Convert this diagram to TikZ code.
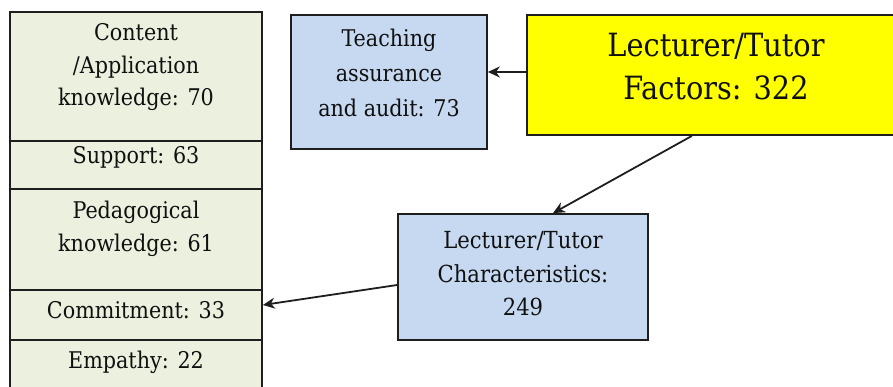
\documentclass[tikz,border=0pt]{standalone}
\usepackage{fontspec}
\setmainfont{DejaVu Serif Condensed}
\usetikzlibrary{arrows.meta}
\definecolor{cellgreen}{HTML}{EBF1DE}
\definecolor{boxblue}{HTML}{C6D9F1}
\definecolor{boxyellow}{HTML}{FFFF00}
\definecolor{edge}{HTML}{1E1E1E}
\definecolor{ink}{HTML}{101010}
\begin{document}
\begin{tikzpicture}[x=1pt,y=1pt,
  cell/.style={draw=edge,line width=1.7pt,fill=cellgreen,minimum width=252pt,inner sep=0pt},
  bluebox/.style={draw=edge,line width=1.7pt,fill=boxblue,inner sep=0pt},
  yelbox/.style={draw=edge,line width=1.7pt,fill=boxyellow,inner sep=0pt},
  txt/.style={align=center,text=ink,inner sep=0pt,font=\fontsize{23}{32.5}\selectfont},
  bigtxt/.style={align=center,text=ink,inner sep=0pt,font=\fontsize{32}{43}\selectfont},
  arr/.style={draw=edge,line width=1.8pt,-{Stealth[length=12pt,width=11pt]}}]
\useasboundingbox (0,0) rectangle (893,387);
\clip (0,0) rectangle (893,387);
% left column
\node[cell,minimum height=129pt] (c1) at (136,310.5) {};
\node[cell,minimum height=48pt] (c2) at (136,222) {};
\node[cell,minimum height=101pt] (c3) at (136,147.5) {};
\node[cell,minimum height=50pt] (c4) at (136,72) {};
\node[cell,minimum height=60pt] (c5) at (136,17) {};
\node[txt] (t1) at (136,319.5) {Content\\/Application\\knowledge: 70};
\node[txt] (t2) at (136,230) {Support: 63};
\node[txt] (t3) at (136,158) {Pedagogical\\knowledge: 61};
\node[txt] (t4) at (136,77) {Commitment: 33};
\node[txt] (t5) at (136,25) {Empathy: 22};
% boxes
\node[bluebox,minimum width=196pt,minimum height=134pt] (T) at (389,305) {};
\node[txt,font=\fontsize{23}{35}\selectfont] (Tt) at (389,314) {Teaching\\assurance\\and audit: 73};
\node[yelbox,minimum width=378pt,minimum height=120pt] (Y) at (716,312) {};
\node[bigtxt] (Yt) at (716,320.5) {Lecturer/Tutor\\Factors: 322};
\node[bluebox,minimum width=250pt,minimum height=126pt] (C) at (523,110) {};
\node[txt,font=\fontsize{23.5}{33.5}\selectfont] (Ct) at (523,113) {Lecturer/Tutor\\Characteristics:\\249};
% connectors
\draw[arr] ([yshift=3pt]Y.west) -- ([yshift=3pt]Y.west -| T.east);
\draw[arr] ([xshift=-24pt]Y.south) -- ([xshift=30pt]C.north);
\draw[arr] ([yshift=-8pt]C.west) -- ([yshift=10pt]c4.east);
\end{tikzpicture}
\end{document}
